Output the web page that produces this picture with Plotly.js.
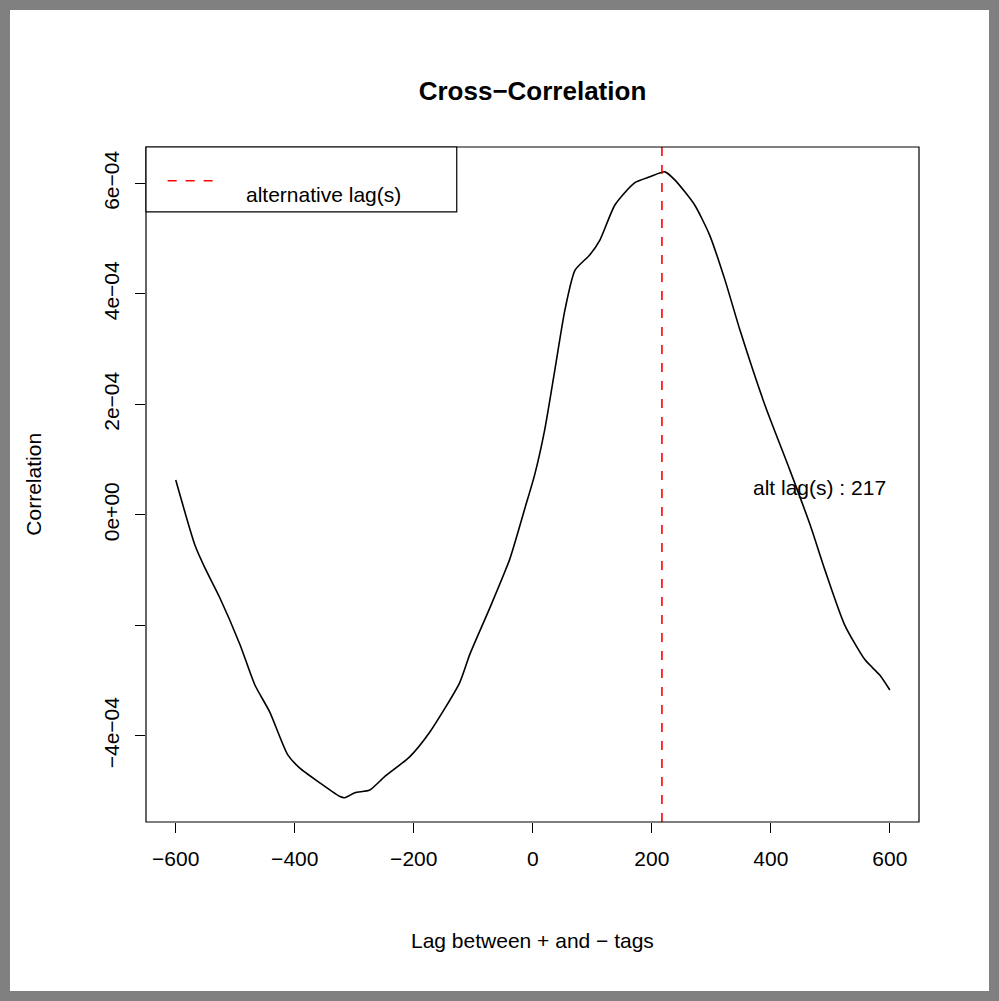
<!DOCTYPE html>
<html>
<head>
<script src="https://cdn.plot.ly/plotly-3.0.1.min.js"></script>
<style>
  body { margin: 0; background: #808080; }
  #chart { position: absolute; left: 10px; top: 10px; width: 979px; height: 981px; background: #fff; }
</style>
</head>
<body>
<div id="chart"></div>
<script>
// lag values and correlation
const lags = [-600, -568, -551, -526, -492, -467, -442, -412, -392, -358, -324, -316, -299, -274, -249, -207, -173, -123, -106, -72, -39, -13, 3, 20, 37, 54, 71, 96, 113, 138, 171, 197, 222, 239, 272, 297, 323, 348, 390, 432, 466, 491, 524, 558, 583, 600];
const corr = [0.63, -0.54, -0.96, -1.5, -2.35, -3.08, -3.57, -4.34, -4.58, -4.85, -5.1, -5.12, -5.03, -4.98, -4.74, -4.38, -3.93, -3.04, -2.53, -1.68, -0.81, 0.13, 0.72, 1.54, 2.62, 3.71, 4.43, 4.71, 4.98, 5.61, 6.01, 6.12, 6.21, 6.06, 5.61, 5.07, 4.25, 3.35, 1.99, 0.81, -0.18, -1.0, -1.99, -2.62, -2.9, -3.17].map(v => v * 1e-4);
const altLag = 217;
const yTicks = [-4e-4, -2e-4, 0, 2e-4, 4e-4, 6e-4];
const yTickText = ['\u22124e\u221204', '', '0e+00', '2e\u221204', '4e\u221204', '6e\u221204'];
const xTicks = [-600, -400, -200, 0, 200, 400, 600];

const font = {family: 'Liberation Sans, Arial, sans-serif', size: 21, color: '#000'};

var curve = {
    x: lags, y: corr, mode: 'lines', line: {color: '#000', width: 1.6, shape: 'spline', smoothing: 0.6},
    showlegend: false, hoverinfo: 'skip'
};
var altLine = {
    x: [altLag, altLag], y: [-1, 1], mode: 'lines',
    line: {color: '#ff0000', width: 1.6, dash: 'dash'}, showlegend: false
};

var layout = {
    width: 979, height: 981,
    margin: {l: 136, r: 70, t: 137, b: 169},
    paper_bgcolor: '#fff', plot_bgcolor: '#fff',
    font: font,
    showlegend: false,
    title: {text: '<b>Cross\u2212Correlation</b>', font: {size: 26}, x: 0.5, xref: 'paper', y: 0.927, yref: 'container'},
    xaxis: {
        range: [-650, 649], tickvals: xTicks, ticktext: xTicks.map(v => v < 0 ? '\u2212' + (-v) : String(v)),
        ticks: 'outside', ticklen: 10, tickwidth: 1, tickcolor: '#000', ticklabelstandoff: 8,
        showgrid: false, zeroline: false, showline: false, tickfont: font
    },
    yaxis: {
        range: [-5.56e-4, 6.66e-4], tickvals: yTicks, ticktext: yTickText,
        tickangle: -90, ticks: 'outside', ticklen: 10, tickwidth: 1, tickcolor: '#000', ticklabelstandoff: 8,
        showgrid: false, zeroline: false, showline: false, tickfont: font
    },
    shapes: [
        {type: 'rect', xref: 'paper', yref: 'paper', x0: 0, x1: 1, y0: 0, y1: 1, line: {color: '#000', width: 1.2}},
        {type: 'rect', xref: 'paper', yref: 'paper', x0: 0, x1: 0.402, y0: 0.904, y1: 1, fillcolor: '#fff', line: {color: '#000', width: 1.2}},
        {type: 'line', xref: 'paper', yref: 'paper', x0: 0.028, x1: 0.089, y0: 0.95, y1: 0.95, line: {color: '#ff0000', width: 1.6, dash: 'dash'}}
    ],
    annotations: [
        {text: 'alternative lag(s)', x: 0.127, y: 0.95, xref: 'paper', yref: 'paper', xanchor: 'left', showarrow: false, font: font},
        {text: 'alt lag(s) : 217', x: 482, y: 0.5e-4, xref: 'x', yref: 'y', showarrow: false, font: font},
        {text: 'Lag between + and \u2212 tags', x: 0.5, xref: 'paper', y: -0.175, yref: 'paper', yanchor: 'middle', showarrow: false, font: font},
        {text: 'Correlation', x: -0.146, xref: 'paper', xanchor: 'center', y: 0.5, yref: 'paper', textangle: -90, showarrow: false, font: font}
    ]
};

Plotly.newPlot('chart', [curve, altLine], layout, {displayModeBar: false});
</script>
</body>
</html>
